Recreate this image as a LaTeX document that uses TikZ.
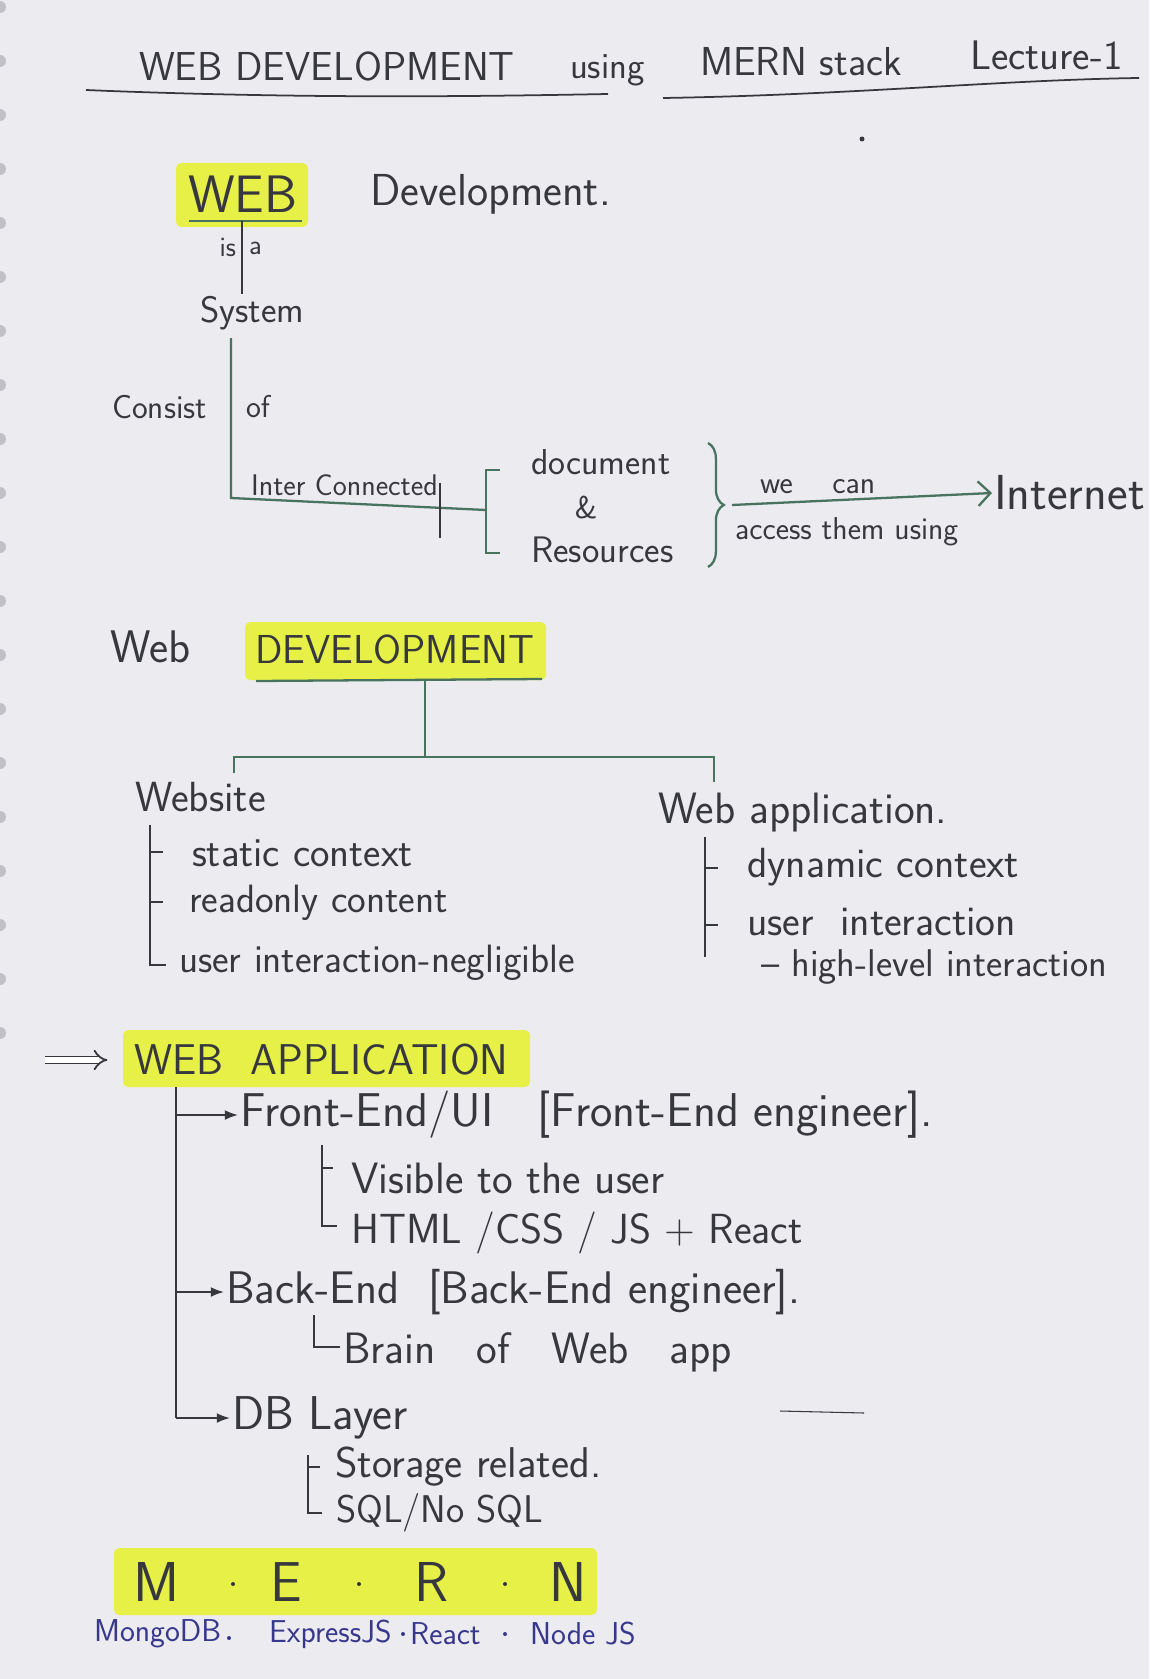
\documentclass[tikz,border=0pt]{standalone}
\usepackage{amsmath}
\usepackage{fontspec}
\usetikzlibrary{arrows.meta,positioning,decorations.pathreplacing}

\definecolor{paper}{RGB}{236,235,240}
\definecolor{pencil}{RGB}{55,55,62}
\definecolor{greenpen}{RGB}{72,115,95}
\definecolor{hilite}{RGB}{230,240,70}
\definecolor{bluepen}{RGB}{55,55,140}
\definecolor{holes}{RGB}{192,192,198}

\newcommand{\pensize}[1]{\fontsize{#1}{#1}\selectfont}

\begin{document}
\begin{tikzpicture}[x=0.02cm, y=-0.02cm, >=Latex, sz/.style={font=\sffamily\pensize{#1}}]

    % Define styles
    \tikzstyle{hand} = [text=pencil, inner sep=1pt, anchor=west]
    \tikzstyle{marker} = [fill=hilite, rounded corners=3pt]
    \tikzstyle{pen} = [draw=pencil, line width=1pt]
    \tikzstyle{gpen} = [draw=greenpen, line width=1.3pt]
    \tikzstyle{bpen} = [text=bluepen, inner sep=1pt, anchor=west, sz=18]

    % Paper
    \useasboundingbox (0,0) rectangle (1149,1679);
    \fill[paper] (0,0) rectangle (1149,1679);
    \foreach \k in {0,...,19}
        \fill[holes] (0,7+54*\k) circle (6);

    % Title
    \node[hand, sz=23] (title1) at (137,66) {WEB DEVELOPMENT};
    \node[hand, sz=21] (title2) at (568,70) {using};
    \node[hand, sz=23] (title3) at (698,62) {MERN stack};
    \node[hand, sz=23.5] (title4) at (968,55) {Lecture-1};
    \draw[pen] (86,90) -- (110,91) .. controls (300,98) and (450,97) .. (608,94);
    \draw[pen] (663,98) .. controls (850,95) and (1000,80) .. (1139,78);
    \fill[pencil] (862,139) circle (2.5);

    % WEB Development
    \fill[marker] (176,163) rectangle (308,227);
    \node[hand, sz=30] (web) at (186,194) {WEB};
    \node[hand, sz=25.5] (dev) at (368,194) {Development.};
    \draw[gpen] (189,221) -- (302,221);
    \coordinate (webfoot) at (242,221);
    \node[hand, sz=21] (system) at (198,313) {System};
    \draw[pen] (webfoot) -- (webfoot |- system.north);
    \node[hand, sz=16, anchor=east] (is) at (238,248) {is};
    \node[hand, sz=16] (a) at (247,248) {a};

    % Consist of
    \coordinate (systop) at (231,338);
    \coordinate (corner) at (231,498);
    \coordinate (brk) at (486,510);
    \node[hand, sz=19, anchor=east] (consist) at (209,407) {Consist};
    \node[hand, sz=18] (of) at (244,407) {of};
    \node[hand, sz=17] (inter) at (249,485) {Inter Connected};
    \draw[gpen] (systop) -- (corner) -- (brk);
    \draw[pen, line width=0.6pt] (440,483) -- (440,538);

    % document & Resources
    \draw[gpen] (500,470) -- (486,470) -- (486,553) -- (500,553);
    \node[hand, sz=20.5] (doc) at (529,462) {document};
    \node[hand, sz=18, anchor=center] (amp) at (586,508) {\&};
    \node[hand, sz=21] (res) at (529,550) {Resources};
    \draw[gpen, decorate, decoration={brace, amplitude=9pt}] (708,443) -- (708,567);
    \coordinate (bracetip) at (732,505);

    % Internet
    \node[hand, sz=28] (inet) at (992,493) {Internet};
    \draw[gpen, -{Straight Barb[length=7pt]}] (bracetip) -- (inet.west);
    \node[hand, sz=18] (wecan) at (758,487) {we\ \ \ \ can};
    \node[hand, sz=18] (access) at (733,532) {access them using};

    % Web DEVELOPMENT
    \node[hand, sz=26] (webword) at (108,647) {Web};
    \fill[marker] (245,622) rectangle (546,680);
    \node[hand, sz=23] (devcaps) at (253,649) {DEVELOPMENT};
    \draw[gpen] (256,681) -- (542,679);
    \coordinate (devfoot) at (425,680);
    \coordinate (split) at (425,757);
    \draw[gpen] (devfoot) -- (split);
    \draw[gpen] (234,773) -- (234,757) -- (714,757) -- (714,782);

    % Website
    \node[hand, sz=24] (website) at (133,797) {Website};
    \draw[pen] (150,825) -- (150,965) -- (166,965);
    \foreach \y in {852,902}
        \draw[pen] (150,\y) -- ++(13,0);
    \node[hand, sz=23.5] (static) at (190,853) {static context};
    \node[hand, sz=22.5] (readonly) at (187,903) {readonly content};
    \node[hand, sz=22.5] (negl) at (177,963) {user interaction-negligible};

    % Web application
    \node[hand, sz=25] (webapp) at (656,813) {Web application.};
    \draw[pen] (705,837) -- (705,957);
    \foreach \y in {868,925}
        \draw[pen] (705,\y) -- ++(13,0);
    \node[hand, sz=24] (dynamic) at (745,867) {dynamic context};
    \node[hand, sz=24] (userint) at (745,922) {user\ \ interaction};
    \node[hand, sz=22] (highlev) at (759,967) {\textendash\ high-level interaction};

    % WEB APPLICATION
    \fill[marker] (123,1030) rectangle (530,1087);
    \node[hand, sz=24.5] (wapp) at (132,1060) {WEB\ \ APPLICATION};
    \coordinate (implstart) at (45,1060);
    \draw[pen, double, double distance=3pt, -{Implies}, shorten >=14pt] (implstart) -- (wapp.west);
    \coordinate (stem) at (176,1087);
    \coordinate (stemend) at (176,1418);
    \draw[pen] (stem) -- (stemend);

    % Front-End
    \node[hand, sz=27] (front) at (238,1115) {Front-End/UI\ \ \ [Front-End engineer].};
    \draw[pen] (322,1145) -- (322,1226) -- (337,1226);
    \draw[pen] (322,1168) -- ++(11,0);
    \node[hand, sz=25] (visible) at (349,1178) {Visible to the user};
    \node[hand, sz=24] (htmlcss) at (349,1233) {HTML /CSS / JS + React};

    % Back-End
    \node[hand, sz=26] (back) at (224,1292) {Back-End\ \ [Back-End engineer].};
    \draw[pen] (314,1315) -- (314,1347) -- (340,1347);
    \node[hand, sz=25] (brain) at (341,1352) {Brain\ \ \ of\ \ \ Web\ \ \ app};

    % DB Layer
    \node[hand, sz=27] (db) at (230,1418) {DB Layer};
    \draw[pen] (308,1455) -- (308,1513) -- (322,1513);
    \draw[pen] (308,1467) -- ++(12,0);
    \node[hand, sz=24.5] (storage) at (333,1467) {Storage related.};
    \node[hand, sz=22] (sql) at (334,1513) {SQL/No SQL};
    \draw[pen, line width=0.6pt] (780,1411) -- (864,1413);

    \draw[pen, ->] (stem |- front.west) -- (front.west);
    \draw[pen, ->] (stem |- back.west) -- (back.west);
    \draw[pen, ->] (stemend) -- (db.west);

    % MERN
    \fill[marker] (114,1548) rectangle (597,1615);
    \foreach \ch/\x in {M/157, E/286, R/432, N/568}
        \node[hand, sz=32, anchor=center] (mern\ch) at (\x,1582) {\ch};
    \foreach \x in {233,359,505}
        \fill[pencil] (\x,1584) circle (2);

    \node[bpen] (mongo) at (92,1634) {MongoDB};
    \node[bpen] (express) at (267,1634) {ExpressJS};
    \node[bpen] (react) at (408,1634) {React};
    \node[bpen] (nodejs) at (528,1634) {Node JS};
    \foreach \x/\y in {229/1638, 403/1634, 505/1634}
        \fill[bluepen] (\x,\y) circle (2);

\end{tikzpicture}
\end{document}
